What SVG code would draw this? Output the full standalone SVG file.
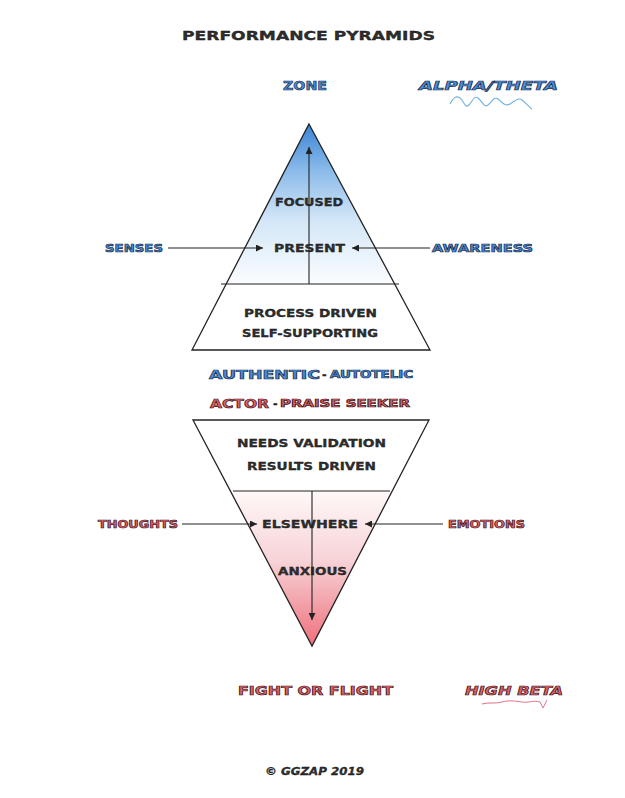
<svg xmlns="http://www.w3.org/2000/svg" width="625" height="798" viewBox="0 0 625 798">
<style>
text{font-family:"DejaVu Sans","Liberation Sans",sans-serif;font-weight:bold}
.dk{fill:#2e2e2e;stroke:#111;stroke-width:0.3}
.bl{fill:#4a8ed8;stroke:#1b2d4d;stroke-width:0.7}
.rd{fill:#e4606e;stroke:#3a1414;stroke-width:0.7}
.it{font-style:italic}
.tri{stroke:#222;stroke-width:1.3;fill:none}
.ln{stroke:#222;stroke-width:1.1;fill:none}
</style>
<defs>
<linearGradient id="gBlue" gradientUnits="userSpaceOnUse" x1="0" y1="124" x2="0" y2="284">
<stop offset="0" stop-color="#3a84d5"/>
<stop offset="0.3" stop-color="#8dbcea"/>
<stop offset="0.6" stop-color="#d3e6f7"/>
<stop offset="1" stop-color="#fbfdff"/>
</linearGradient>
<linearGradient id="gRed" gradientUnits="userSpaceOnUse" x1="0" y1="491" x2="0" y2="646">
<stop offset="0" stop-color="#fef8f8"/>
<stop offset="0.45" stop-color="#f7d3d7"/>
<stop offset="1" stop-color="#ef6f7b"/>
</linearGradient>
<marker id="ah" viewBox="0 0 10 10" refX="10" refY="5" markerWidth="7" markerHeight="7" markerUnits="userSpaceOnUse" orient="auto">
<path d="M0,0 L10,5 L0,10 z" fill="#222"/>
</marker>
</defs>
<rect width="625" height="798" fill="#fff"/>

<g id="title">
<text class="dk" x="182" y="40" font-size="12" textLength="253" lengthAdjust="spacingAndGlyphs">PERFORMANCE PYRAMIDS</text>
</g>

<g id="zone">
<text class="bl" x="283" y="90" font-size="13" textLength="44" lengthAdjust="spacingAndGlyphs">ZONE</text>
</g>
<g id="alpha-theta">
<text class="bl it" x="419" y="90" font-size="13" textLength="139" lengthAdjust="spacingAndGlyphs">ALPHA/THETA</text>
<path d="M450,104 C453,98 456,95 460,98 S465,109 469,105 S474,95 478,98 S484,108 488,105 S494,96 498,99 S505,107 510,104 S518,97 522,100 S529,107 532,109" fill="none" stroke="#74b2e2" stroke-width="1.1"/>
</g>

<g id="top-pyramid">
<polygon points="309,124 430,350 192,350" fill="url(#gBlue)"/>
<polygon points="227,284 396,284 430,350 192,350" fill="#fff"/>
<polygon class="tri" points="309,124 430,350 192,350"/>
<line class="ln" x1="221" y1="284" x2="399" y2="284"/>
</g>
<g id="focused"><text class="dk" x="275" y="206" font-size="11" textLength="68" lengthAdjust="spacingAndGlyphs">FOCUSED</text></g>
<g id="present"><text class="dk" x="274" y="252" font-size="11" textLength="71" lengthAdjust="spacingAndGlyphs">PRESENT</text></g>
<g id="senses"><text class="bl" x="105" y="252" font-size="11" textLength="58" lengthAdjust="spacingAndGlyphs">SENSES</text></g>
<g id="awareness"><text class="bl" x="432" y="252" font-size="11" textLength="101" lengthAdjust="spacingAndGlyphs">AWARENESS</text></g>
<g id="process-driven"><text class="dk" x="244" y="317" font-size="11" textLength="133" lengthAdjust="spacingAndGlyphs">PROCESS DRIVEN</text></g>
<g id="self-supporting"><text class="dk" x="242" y="337" font-size="11" textLength="136" lengthAdjust="spacingAndGlyphs">SELF-SUPPORTING</text></g>

<g id="authentic">
<text class="bl" x="209" y="379" font-size="12.5" textLength="111" lengthAdjust="spacingAndGlyphs">AUTHENTIC</text>
<text class="dk" x="322" y="378" font-size="11">-</text>
<text class="bl" x="330" y="378" font-size="10" textLength="83" lengthAdjust="spacingAndGlyphs">AUTOTELIC</text>
</g>
<g id="actor">
<text class="rd" x="210" y="408" font-size="12.5" textLength="59" lengthAdjust="spacingAndGlyphs">ACTOR</text>
<text class="dk" x="273" y="407" font-size="11">-</text>
<text class="rd" x="280" y="407" font-size="10" textLength="130" lengthAdjust="spacingAndGlyphs">PRAISE SEEKER</text>
</g>

<g id="bottom-pyramid">
<polygon points="193,420 429,420 312,646" fill="url(#gRed)"/>
<polygon points="193,420 429,420 392,491 232,491" fill="#fff"/>
<polygon class="tri" points="193,420 429,420 312,646"/>
<line class="ln" x1="233" y1="491" x2="390" y2="491"/>
</g>
<g id="needs-validation"><text class="dk" x="237" y="447" font-size="11" textLength="149" lengthAdjust="spacingAndGlyphs">NEEDS VALIDATION</text></g>
<g id="results-driven"><text class="dk" x="247" y="470" font-size="11" textLength="129" lengthAdjust="spacingAndGlyphs">RESULTS DRIVEN</text></g>
<g id="thoughts"><text class="rd" x="98" y="528" font-size="11" textLength="80" lengthAdjust="spacingAndGlyphs">THOUGHTS</text></g>
<g id="elsewhere"><text class="dk" x="262" y="528" font-size="11" textLength="96" lengthAdjust="spacingAndGlyphs">ELSEWHERE</text></g>
<g id="emotions"><text class="rd" x="448" y="528" font-size="11" textLength="77" lengthAdjust="spacingAndGlyphs">EMOTIONS</text></g>
<g id="anxious"><text class="dk" x="278" y="575" font-size="11" textLength="69" lengthAdjust="spacingAndGlyphs">ANXIOUS</text></g>

<g id="connectors">
<line class="ln" x1="309" y1="284" x2="309" y2="147" marker-end="url(#ah)"/>
<line class="ln" x1="168" y1="248" x2="263" y2="248" marker-end="url(#ah)"/>
<line class="ln" x1="430" y1="248" x2="352" y2="248" marker-end="url(#ah)"/>
<line class="ln" x1="312" y1="491" x2="312" y2="620" marker-end="url(#ah)"/>
<line class="ln" x1="182" y1="524" x2="257" y2="524" marker-end="url(#ah)"/>
<line class="ln" x1="443" y1="524" x2="365" y2="524" marker-end="url(#ah)"/>
</g>

<g id="fight-or-flight">
<text class="rd" x="238" y="695" font-size="12.5" textLength="155" lengthAdjust="spacingAndGlyphs">FIGHT OR FLIGHT</text>
</g>
<g id="high-beta">
<text class="rd it" x="465" y="695" font-size="12.5" textLength="98" lengthAdjust="spacingAndGlyphs">HIGH BETA</text>
<path d="M482,704 C489,702 495,704 502,702 S515,701 522,702 S534,700 540,702 L543,708 L547,700" fill="none" stroke="#e07582" stroke-width="1"/>
</g>
<g id="copyright">
<text class="dk it" x="265" y="775" font-size="11" textLength="99" lengthAdjust="spacingAndGlyphs">© GGZAP 2019</text>
</g>
</svg>
